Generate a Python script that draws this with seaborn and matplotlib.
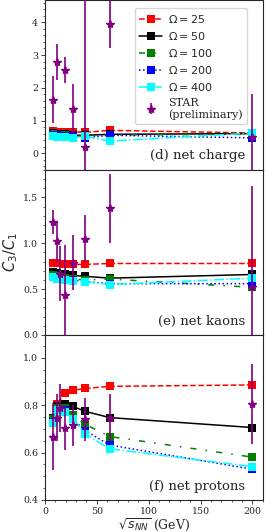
import matplotlib
matplotlib.use('Agg')
import matplotlib.pyplot as plt
import seaborn as sns
import numpy as np

# collision energies (GeV)
energies_model = [7.7, 11.5, 19.6, 27, 39, 62.4, 200]
energies_charge = [7.7, 11.5, 19.6, 27, 39, 62.4, 200]
energies_star = [7.7, 11.5, 14.5, 19.6, 27, 39, 62.4, 200]

omegas = [25, 50, 100, 200, 400]

# model C3/C1, net charge
charge_25 = [0.67, 0.66, 0.66, 0.66, 0.64, 0.70, 0.62]
charge_50 = [0.61, 0.60, 0.58, 0.55, 0.55, 0.58, 0.60]
charge_100 = [0.58, 0.57, 0.56, 0.54, 0.52, 0.56, 0.58]
charge_200 = [0.56, 0.55, 0.54, 0.52, 0.47, 0.55, 0.47]
charge_400 = [0.53, 0.51, 0.50, 0.48, 0.52, 0.37, 0.62]

# model C3/C1, net kaons
kaon_25 = [0.79, 0.78, 0.77, 0.77, 0.77, 0.78, 0.78]
kaon_50 = [0.69, 0.68, 0.66, 0.65, 0.64, 0.62, 0.66]
kaon_100 = [0.65, 0.64, 0.62, 0.61, 0.60, 0.61, 0.52]
kaon_200 = [0.63, 0.62, 0.60, 0.60, 0.58, 0.56, 0.56]
kaon_400 = [0.63, 0.61, 0.60, 0.59, 0.58, 0.55, 0.62]

# model C3/C1, net protons
proton_25 = [0.746, 0.806, 0.850, 0.863, 0.871, 0.880, 0.886]
proton_50 = [0.745, 0.795, 0.806, 0.795, 0.774, 0.748, 0.706]
proton_100 = [0.740, 0.790, 0.790, 0.758, 0.719, 0.668, 0.581]
proton_200 = [0.730, 0.780, 0.780, 0.740, 0.693, 0.632, 0.530]
proton_400 = [0.727, 0.780, 0.772, 0.743, 0.678, 0.616, 0.541]

# STAR preliminary
star_charge = [1.64, 2.79, 2.54, 1.35, 0.20, 3.95, 0.50]
star_charge_err = [0.72, 0.54, 0.40, 0.77, 5.0, 0.75, 1.32]
star_kaon = [1.23, 1.02, 0.67, 0.44, 0.79, 1.05, 1.38, 0.52]
star_kaon_err = [0.13, 0.22, 0.30, 0.54, 0.30, 0.26, 0.38, 1.10]
star_proton = [0.668, 0.748, 0.788, 0.703, 0.715, 0.740, 0.748, 0.806]
star_proton_err = [0.14, 0.10, 0.10, 0.09, 0.085, 0.09, 0.10, 0.17]

panel_labels = ['(d) net charge', '(e) net kaons', '(f) net protons']

sns.set_style('ticks')
plt.rcParams['font.family'] = ['DejaVu Serif']
plt.rcParams['mathtext.fontset'] = 'dejavusans'

colors = ['red', 'black', 'green', 'blue', 'cyan']
styles = ['--', '-', (0, (4, 6, 1, 6)), ':', '-.']

fig, axes = plt.subplots(3, 1, figsize=(2.66, 5.32), dpi=100, sharex=True,
                         gridspec_kw={'hspace': 0, 'height_ratios': [170, 165, 165]})
fig.subplots_adjust(left=0.169, right=0.988, top=1.0, bottom=0.0602)

model_sets = [
    [charge_25, charge_50, charge_100, charge_200, charge_400],
    [kaon_25, kaon_50, kaon_100, kaon_200, kaon_400],
    [proton_25, proton_50, proton_100, proton_200, proton_400],
]
star_sets = [
    (energies_charge, star_charge, star_charge_err),
    (energies_star, star_kaon, star_kaon_err),
    (energies_star, star_proton, star_proton_err),
]
ylims = [(-0.51, 4.68), (0, 1.80), (0.4, 1.097)]
yticks = [[0, 1, 2, 3, 4], [0.0, 0.5, 1.0, 1.5], [0.4, 0.6, 0.8, 1.0]]

for i, ax in enumerate(axes):
    for j, vals in enumerate(model_sets[i]):
        sns.lineplot(x=energies_model, y=vals, ax=ax, color=colors[j],
                     linestyle=styles[j], marker='s', markersize=6,
                     markeredgewidth=0, linewidth=1.1, sort=False,
                     label=r'$\Omega = %d$' % omegas[j], legend=False)
    ex, ey, ee = star_sets[i]
    ax.errorbar(ex, ey, yerr=ee, fmt='*', color='purple', markersize=6,
                elinewidth=1.2, capsize=0, label='STAR\n(preliminary)',
                zorder=5)
    ax.set_ylim(*ylims[i])
    ax.set_yticks(yticks[i])
    ax.set_xlim(0, 210)
    ax.set_xticks([0, 50, 100, 150, 200])
    ax.minorticks_on()
    ax.tick_params(labelsize=6.8, length=3, width=0.6, pad=2)
    ax.tick_params(which='minor', length=1.5, width=0.5)
    for s in ax.spines.values():
        s.set_linewidth(0.8)
    ax.text(0.92, 0.045, panel_labels[i], transform=ax.transAxes,
            ha='right', va='bottom', fontsize=9.5)

axes[0].legend(loc='upper right', fontsize=8, handlelength=2.0,
               borderpad=0.4, labelspacing=0.45, handletextpad=0.6,
               bbox_to_anchor=(0.955, 0.985))
axes[1].set_ylabel(r'$C_3/C_1$', fontsize=10.5)
axes[1].yaxis.set_label_coords(-0.115, 0.5)
axes[2].set_xlabel(r'$\sqrt{s_{NN}}$ (GeV)', fontsize=9, labelpad=0)

plt.savefig('out.png', dpi=100)
plt.close()
